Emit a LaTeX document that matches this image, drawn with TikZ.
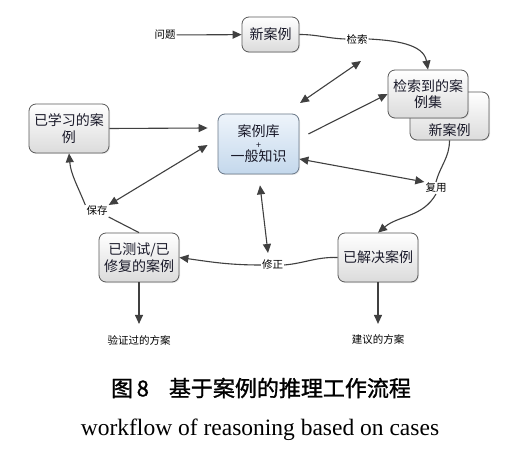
\documentclass[tikz,border=0pt]{standalone}
\usepackage{fontspec}
\setmainfont{Noto Sans CJK SC}
\newfontfamily\capcjk[FakeBold=1.2]{Noto Sans CJK SC}
\newfontfamily\tnr{Liberation Serif}
\usetikzlibrary{arrows.meta,calc,shadows}
\definecolor{lnc}{HTML}{404040}
\definecolor{bdr}{HTML}{5A5A5A}
\definecolor{txt}{HTML}{1A1A2A}
\definecolor{kTop}{HTML}{EEF4FB}
\definecolor{kBot}{HTML}{C4D8EC}
\definecolor{kBdr}{HTML}{6A7888}
\tikzset{
  box/.style={draw=bdr, line width=0.8pt, rounded corners=7pt, top color=white, bottom color=black!14,
    minimum width=80pt, minimum height=49pt, align=center, text=txt, inner sep=2pt,
    font=\fontsize{14}{16.5}\selectfont,
    drop shadow={opacity=0.18, shadow xshift=1pt, shadow yshift=-1pt}},
  kbox/.style={box, top color=kTop, bottom color=kBot, draw=kBdr},
  lbl/.style={fill=white, inner sep=1pt, text=black, font=\fontsize{10.5}{12}\selectfont},
  plain/.style={inner sep=1pt, text=black, font=\fontsize{10.5}{12}\selectfont},
  conn/.style={draw=lnc, line width=1.1pt},
  arr/.style={conn, -{Triangle[length=9pt,width=8pt]}},
  darr/.style={conn, {Triangle[length=9pt,width=8pt]}-{Triangle[length=9pt,width=8pt]}},
}
\begin{document}
\begin{tikzpicture}[x=1pt,y=-1pt]
\useasboundingbox[fill=white] (0,0) rectangle (514,449);
% boxes
\node[box, minimum width=57pt, minimum height=35pt] (A) at (270.5,34.5) {新案例};
\node[box, minimum width=79pt, minimum height=48pt] (N2) at (449.5,116) {};
\node[box, minimum width=80pt, minimum height=48pt] (R) at (428,94) {检索到的案\\例集};
\node[inner sep=0pt, text=txt, font=\fontsize{14}{16.5}\selectfont] (n2t) at (449.5,130) {新案例};
\node[kbox, minimum width=81pt, minimum height=60pt] (K) at (258.5,144) {案例库\\[-5pt]{\fontsize{9}{9}\selectfont +}\\[-3pt]一般知识};
\node[box] (L) at (69,128.5) {已学习的案\\例};
\node[box] (T) at (139,257.5) {已测试/已\\修复的案例};
\node[box] (S) at (378,257.5) {已解决案例};
% labels
\node[plain] (q) at (165,35) {问题};
\node[plain] (yz) at (139,340) {验证过的方案};
\node[plain] (jy) at (378,340) {建议的方案};
\node[lbl] (jian) at (357,39) {检索};
\node[lbl] (fy) at (436,188) {复用};
\node[lbl] (xz) at (272.5,265) {修正};
\node[lbl] (bc) at (97,211) {保存};
\coordinate (c1) at (300,103);
\coordinate (c2) at (361,61);
% connectors
\draw[arr] (q) -- (A);
\draw[conn] (A.east) to[out=0,in=178] (jian.west);
\draw[arr] (jian.east) to[out=-3,in=100] (R.north);
\draw[darr] (c1) -- (c2);
\draw[arr] ($(K.east)+(9,-10)$) -- (R.west);
\draw[darr] ($(K.east)+(0,15)$) -- (fy.north west);
\draw[conn] (N2.south) to[out=-90,in=75] (fy.north);
\draw[arr] (fy.south) to[out=-120,in=40] (S.north);
\draw[conn] (S.west) to[out=178,in=5] (xz.east);
\draw[arr] (xz.west) to[out=180,in=-8] (T.east);
\draw[darr] ($(K.south)+(1.5,11)$) -- ($(xz.north)+(-4.5,-6)$);
\draw[conn] (T.north) -- (bc.south east);
\draw[arr] (bc.north west) to[out=112,in=-85] (L.south);
\draw[darr] (bc.north east) -- ($(K.west)+(-10,1)$);
\draw[arr] (L.east) -- ($(K.west)+(-10,-16)$);
\draw[arr, shorten >=10pt] (T.south) -- (yz.north);
\draw[arr, shorten >=10pt] (S.south) -- (jy.north);
% caption
\node[inner sep=0pt, font=\capcjk\fontsize{22}{24}\selectfont] (cap1) at (261,388) {图\,8\hspace{20pt}基于案例的推理工作流程};
\node[inner sep=0pt, font=\tnr\fontsize{23.5}{26}\selectfont] (cap2) at (260,430) {workflow of reasoning based on cases};
\end{tikzpicture}
\end{document}
